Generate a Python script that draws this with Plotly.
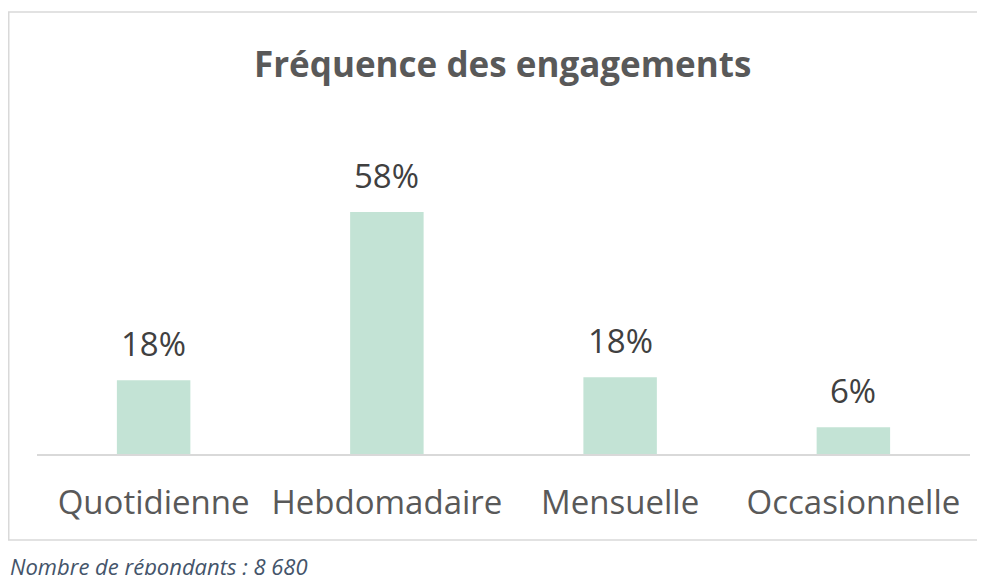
import plotly.graph_objects as go

categories = ["Quotidienne", "Hebdomadaire", "Mensuelle", "Occasionnelle"]
values = [17.7, 58.0, 18.4, 6.4]
bar_color = "#C3E3D5"

title_text = "Fréquence des engagements"
footnote_text = "Nombre de répondants : 8 680"

FONT = "Open Sans"

# page body has an 8px default margin; work in screen coordinates minus it
OFF = 8
W, H = 985 - OFF, 575 - OFF
ml, mr, mt, mb = 37 - OFF, 15, 162 - OFF, 121
pw = W - ml - mr
ph = H - mt - mb


def sx(px):
    return (px - OFF - ml) / pw


def sy(py):
    return (H - mb - (py - OFF)) / ph


fig = go.Figure()
fig.add_trace(go.Bar(
    x=categories,
    y=values,
    marker=dict(color=bar_color, line=dict(width=0)),
    cliponaxis=False,
    hoverinfo="skip",
))

labels = [
    dict(x=c, y=v, xref="x", yref="y", text=f"{v:.0f}%", showarrow=False,
         yanchor="bottom", xanchor="center", yshift=12,
         font=dict(family=FONT, size=33, color="#404040"))
    for c, v in zip(categories, values)
]

fig.update_layout(
    width=W, height=H,
    margin=dict(l=ml, r=mr, t=mt, b=mb, autoexpand=False),
    paper_bgcolor="white",
    plot_bgcolor="white",
    showlegend=False,
    bargap=0.685,
    font=dict(family=FONT, color="#595959"),
    xaxis=dict(
        showline=True, linecolor="#D9D9D9", linewidth=1.5,
        showgrid=False, zeroline=False, ticks="",
        tickfont=dict(family=FONT, size=33, color="#595959"),
        ticklabelstandoff=19,
    ),
    yaxis=dict(
        range=[0, 70], visible=False, showgrid=False, zeroline=False,
    ),
    shapes=[dict(
        type="rect", xref="paper", yref="paper",
        x0=sx(OFF + 0.75), x1=sx(1000),
        y0=sy(540), y1=sy(12),
        line=dict(color="#D9D9D9", width=1.5), fillcolor="rgba(0,0,0,0)",
        layer="below",
    )],
    annotations=labels + [
        dict(text="<b>" + title_text + "</b>", xref="paper", yref="paper",
             x=sx(502), y=sy(63), xanchor="center", yanchor="middle",
             showarrow=False, font=dict(family=FONT, size=35, color="#595959")),
        dict(text="<i>" + footnote_text + "</i>", xref="paper", yref="paper",
             x=sx(8), y=sy(566), xanchor="left", yanchor="middle",
             showarrow=False, font=dict(family=FONT, size=22, color="#44546A")),
    ],
)

fig.write_html("out.html")
